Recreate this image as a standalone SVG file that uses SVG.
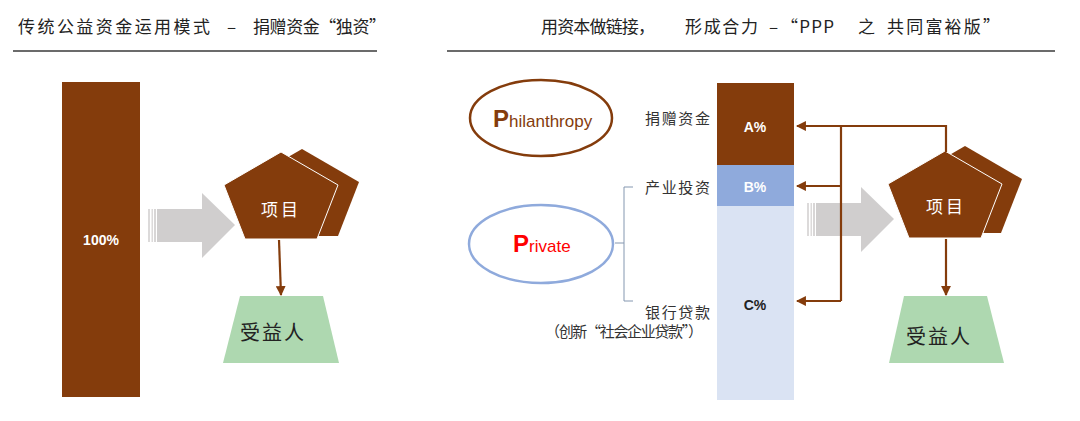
<svg xmlns="http://www.w3.org/2000/svg" width="1080" height="421" viewBox="0 0 1080 421">
<style>
.cjk{font-family:"Noto Sans CJK SC","Noto Sans",sans-serif;fill:#222}
.title{font-size:17px}
.lbl{font-size:15px;fill:#333}
.pct{font-family:"Liberation Sans",Arial,sans-serif;font-weight:bold;font-size:14px;text-anchor:middle}
.brown{fill:#843C0C}
.conn{stroke:#843C0C;stroke-width:2.2;fill:none}
.gray{fill:#D0CECE}
.green{fill:#AED8B0}
.rule{stroke:#3a3a3a;stroke-width:1.5}
</style>
<defs>
<polygon id="pent" points="57,0 114,33 93,87 21,87 0,33"/>
<marker id="ah" viewBox="0 0 10 10" refX="9" refY="5" markerWidth="4.5" markerHeight="4.5" orient="auto-start-reverse" markerUnits="strokeWidth">
<path d="M0,0 L10,5 L0,10 z" fill="#843C0C"/>
</marker>
<g id="garrow">
<rect x="0" y="16" width="2" height="33" fill="#DCDADA"/>
<rect x="3.5" y="16" width="1.5" height="33" fill="#DCDADA"/>
<rect x="6" y="16" width="2" height="33" fill="#D8D6D6"/>
<path d="M9,16 H54 V0 L87,32 L54,65 V49 H9 z" class="gray"/>
</g>
</defs>
<rect width="1080" height="421" fill="#fff"/>

<g id="titles">
<text class="cjk title" x="18" y="33" textLength="192" lengthAdjust="spacing">传统公益资金运用模式</text>
<text class="cjk title" x="227" y="33">–</text>
<text class="cjk title" x="253" y="33" textLength="133" lengthAdjust="spacing">捐赠资金“独资”</text>
<line class="rule" x1="13" y1="51" x2="377" y2="51"/>
<text class="cjk title" x="541" y="33" textLength="114" lengthAdjust="spacing">用资本做链接，</text>
<text class="cjk title" x="685" y="33" textLength="73" lengthAdjust="spacing">形成合力</text>
<text class="cjk title" x="769" y="33">–</text>
<text class="cjk title" x="781" y="33" textLength="53" lengthAdjust="spacing">“PPP</text>
<text class="cjk title" x="858" y="33">之</text>
<text class="cjk title" x="887" y="33" textLength="113" lengthAdjust="spacing">共同富裕版”</text>
<line class="rule" x1="447" y1="51" x2="1055" y2="51"/>
</g>

<g id="bar100">
<rect x="62" y="82" width="78" height="315" class="brown"/>
<text class="pct" x="101" y="245" fill="#fff">100%</text>
</g>

<g id="arrow-left">
<use href="#garrow" x="148" y="193"/>
</g>

<g id="project-left">
<use href="#pent" x="245" y="149" class="brown"/>
<use href="#pent" x="224" y="152" class="brown" stroke="#fff" stroke-width="1"/>
<text class="cjk" x="281" y="216" font-size="17" text-anchor="middle" letter-spacing="3" style="fill:#fff">项目</text>
</g>

<g id="beneficiary-left">
<polygon class="green" points="240,296 323,296 339,363 223,363"/>
<text class="cjk" x="240" y="340" font-size="20" letter-spacing="2">受益人</text>
</g>

<g id="philanthropy">
<ellipse cx="541" cy="118" rx="71" ry="38" fill="none" stroke="#843C0C" stroke-width="2.5"/>
<text x="493" y="127" font-family="'Liberation Sans',Arial,sans-serif" fill="#843C0C"><tspan font-size="24" font-weight="bold">P</tspan><tspan font-size="17">hilanthropy</tspan></text>
</g>

<g id="private">
<ellipse cx="541" cy="244" rx="72" ry="39" fill="none" stroke="#8FAADC" stroke-width="2.5"/>
<text x="513" y="252" font-family="'Liberation Sans',Arial,sans-serif" fill="#FF0000"><tspan font-size="24" font-weight="bold">P</tspan><tspan font-size="17">rivate</tspan></text>
<path d="M633,187 H624 V301 H633 M624,243 H615" fill="none" stroke="#8497B0" stroke-width="1"/>
</g>

<g id="labels">
<text class="cjk lbl" x="645" y="124" textLength="65" lengthAdjust="spacing">捐赠资金</text>
<text class="cjk lbl" x="645" y="193" textLength="65" lengthAdjust="spacing">产业投资</text>
<text class="cjk lbl" x="645" y="318" textLength="65" lengthAdjust="spacing">银行贷款</text>
<text class="cjk lbl" x="545" y="337" font-size="14" textLength="158" lengthAdjust="spacing">（创新“社会企业贷款”）</text>
</g>

<g id="stack">
<rect x="717" y="83" width="77" height="82" class="brown"/>
<rect x="717" y="165" width="77" height="41" fill="#8FAADC"/>
<rect x="717" y="206" width="77" height="194" fill="#DAE3F3"/>
<text class="pct" x="755" y="132" fill="#fff">A%</text>
<text class="pct" x="755" y="192" fill="#fff">B%</text>
<text class="pct" x="755" y="310" fill="#222">C%</text>
</g>

<g id="arrow-right">
<use href="#garrow" x="807" y="187"/>
</g>

<g id="project-right">
<use href="#pent" x="908" y="146" class="brown"/>
<use href="#pent" x="888" y="151" class="brown" stroke="#fff" stroke-width="1"/>
<text class="cjk" x="946" y="213" font-size="17" text-anchor="middle" letter-spacing="3" style="fill:#fff">项目</text>
</g>

<g id="beneficiary-right">
<polygon class="green" points="904,296 987,296 1004,363 889,363"/>
<text class="cjk" x="906" y="344" font-size="20" letter-spacing="2">受益人</text>
</g>

<g id="connectors">
<line class="conn" x1="279" y1="240" x2="281" y2="295" marker-end="url(#ah)"/>
<path class="conn" d="M946,152 V126 H841 V301"/>
<line class="conn" x1="841" y1="126" x2="797" y2="126" marker-end="url(#ah)"/>
<line class="conn" x1="841" y1="186" x2="797" y2="186" marker-end="url(#ah)"/>
<line class="conn" x1="841" y1="301" x2="797" y2="301" marker-end="url(#ah)"/>
<line class="conn" x1="946" y1="239" x2="946" y2="295" marker-end="url(#ah)"/>
</g>
</svg>
